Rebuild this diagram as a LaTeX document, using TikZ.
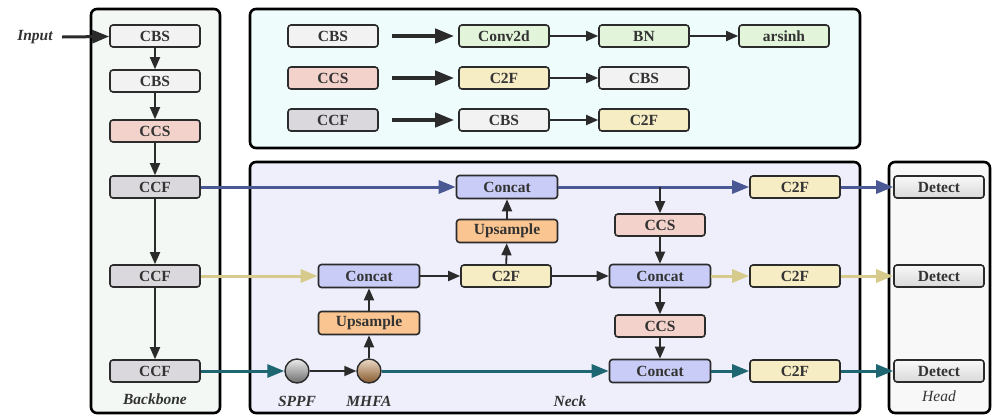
\documentclass[tikz,border=0pt]{standalone}
\usepackage{xcolor}
\usepackage{fontspec}
\setmainfont{Liberation Serif}
\usepackage{tikz}
\usetikzlibrary{arrows.meta}

\definecolor{textc}{HTML}{333333}
\definecolor{edgec}{HTML}{2B2B2B}
\definecolor{cbsc}{HTML}{F2F2F2}
\definecolor{ccsc}{HTML}{F2D2CA}
\definecolor{ccfc}{HTML}{DAD8DD}
\definecolor{convc}{HTML}{E2F5DA}
\definecolor{cfc}{HTML}{F7EDC4}
\definecolor{catc}{HTML}{C9CCF6}
\definecolor{upc}{HTML}{FAC590}
\definecolor{blueln}{HTML}{4A5894}
\definecolor{yelln}{HTML}{D6CB8C}
\definecolor{tealln}{HTML}{1D6672}
\definecolor{backc}{HTML}{F3F8F4}
\definecolor{legc}{HTML}{EFFCFC}
\definecolor{neckc}{HTML}{EFEFFC}
\definecolor{headc}{HTML}{F8F8F8}

\tikzset{
  blk/.style={draw=edgec, line width=1.6pt, rounded corners=3pt, minimum width=90pt,
    minimum height=22pt, inner sep=0pt, text=textc, font=\bfseries\fontsize{15.5}{17}\selectfont},
  wide/.style={blk, minimum width=101pt, minimum height=23pt},
  grp/.style={draw=black, line width=2.6pt, rounded corners=6pt},
  lbl/.style={text=textc, font=\bfseries\itshape\fontsize{15.5}{17}\selectfont},
  ar/.style={draw=edgec, line width=1.8pt, -{Triangle[length=12pt,width=10pt]}},
  big/.style={draw=edgec, line width=4pt, -{Triangle[length=19pt,width=14pt]}},
  col/.style={draw=#1, line width=3pt, -{Triangle[length=17pt,width=13pt]}},
  ball/.style={circle, draw=edgec, line width=1.4pt, minimum size=24pt, inner sep=0pt}
}

\begin{document}
\begin{tikzpicture}[x=1pt,y=-1pt]
  \useasboundingbox (0,0) rectangle (994,416);
  % Group frames
  \draw[grp, fill=backc] (91,9) rectangle (220,413);
  \draw[grp, fill=legc] (250,9) rectangle (860,148);
  \draw[grp, fill=neckc] (250,162) rectangle (860,413);
  \draw[grp, fill=headc] (889,162) rectangle (990,413);

  % Backbone
  \node[lbl] (input) at (35,37) {Input};
  \node[blk, fill=cbsc] (cbs1) at (155,36) {CBS};
  \node[blk, fill=cbsc] (cbs2) at (155,81) {CBS};
  \node[blk, fill=ccsc] (ccs0) at (155,131) {CCS};
  \node[blk, fill=ccfc] (ccf1) at (155,187) {CCF};
  \node[blk, fill=ccfc] (ccf2) at (155,276) {CCF};
  \node[blk, fill=ccfc] (ccf3) at (155,371) {CCF};
  \node[lbl] (bbl) at (155,399) {Backbone};
  \draw[big, line width=3pt, -{Triangle[length=17pt,width=13pt]}] ([xshift=6pt]input.east) -- (cbs1);
  \draw[ar] (cbs1) -- (cbs2);
  \draw[ar] (cbs2) -- (ccs0);
  \draw[ar] (ccs0) -- (ccf1);
  \draw[ar] (ccf1) -- (ccf2);
  \draw[ar] (ccf2) -- (ccf3);

  % Legend
  \node[blk, fill=cbsc] (kcbs) at (333,36) {CBS};
  \node[blk, fill=ccsc] (kccs) at (333,78) {CCS};
  \node[blk, fill=ccfc] (kccf) at (333,120) {CCF};
  \node[blk, fill=convc] (kconv) at (504,36) {Conv2d};
  \node[blk, fill=convc] (kbn) at (644,36) {BN};
  \node[blk, fill=convc] (kact) at (784,36) {arsinh};
  \node[blk, fill=cfc] (kc2f) at (504,78) {C2F};
  \node[blk, fill=cbsc] (kcbs2) at (644,78) {CBS};
  \node[blk, fill=cbsc] (kcbs3) at (504,120) {CBS};
  \node[blk, fill=cfc] (kc2f2) at (644,120) {C2F};
  \draw[big] ([xshift=13pt]kcbs.east) -- ([xshift=-4pt]kconv.west);
  \draw[big] ([xshift=13pt]kccs.east) -- ([xshift=-4pt]kc2f.west);
  \draw[big] ([xshift=13pt]kccf.east) -- ([xshift=-4pt]kcbs3.west);
  \draw[ar] (kconv) -- (kbn);
  \draw[ar] (kbn) -- (kact);
  \draw[ar] (kc2f) -- (kcbs2);
  \draw[ar] (kcbs3) -- (kc2f2);

  % Neck
  \node[wide, fill=catc] (cat1) at (507,187) {Concat};
  \node[wide, fill=upc] (up1) at (507,231) {Upsample};
  \node[blk, fill=cfc] (mc2f) at (506,276) {C2F};
  \node[wide, fill=catc] (cat2) at (369,276) {Concat};
  \node[wide, fill=upc] (up2) at (369,323) {Upsample};
  \node[ball, top color=gray!15, bottom color=gray!85!black] (sppf) at (297,371) {};
  \node[ball, top color=brown!30, bottom color=brown!70!black] (mhfa) at (369,371) {};
  \node[lbl] (sppfl) at (297,401) {SPPF};
  \node[lbl] (mhfal) at (369,401) {MHFA};
  \node[lbl] (neckl) at (570,401) {Neck};
  \node[blk, fill=ccsc] (ccs1) at (660,225) {CCS};
  \node[wide, fill=catc] (cat3) at (660,276) {Concat};
  \node[blk, fill=ccsc] (ccs2) at (660,326) {CCS};
  \node[wide, fill=catc] (cat4) at (660,371) {Concat};
  \node[blk, fill=cfc] (oc2f1) at (795,187) {C2F};
  \node[blk, fill=cfc] (oc2f2) at (795,276) {C2F};
  \node[blk, fill=cfc] (oc2f3) at (795,371) {C2F};

  % Head
  \node[blk, top color=gray!5, bottom color=gray!30] (det1) at (939,187) {Detect};
  \node[blk, top color=gray!5, bottom color=gray!30] (det2) at (939,276) {Detect};
  \node[blk, top color=gray!5, bottom color=gray!30] (det3) at (939,371) {Detect};
  \node[lbl, font=\itshape\fontsize{15.5}{17}\selectfont] (headl) at (939,396) {Head};

  % Colored paths
  \draw[col=blueln] (ccf1) -- (cat1);
  \draw[col=blueln] (cat1) -- (oc2f1);
  \draw[col=blueln] (oc2f1) -- (det1);
  \draw[col=yelln] (ccf2) -- (cat2);
  \draw[col=yelln] (cat3) -- (oc2f2);
  \draw[col=yelln] (oc2f2) -- (det2);
  \draw[col=tealln] (ccf3) -- (sppf);
  \draw[col=tealln] (mhfa) -- (cat4);
  \draw[col=tealln] (cat4) -- (oc2f3);
  \draw[col=tealln] (oc2f3) -- (det3);

  % Dark paths
  \draw[ar] (sppf) -- (mhfa);
  \draw[ar] (mhfa) -- (up2);
  \draw[ar] (up2) -- (cat2);
  \draw[ar] (cat2) -- (mc2f);
  \draw[ar] (mc2f) -- (up1);
  \draw[ar] (up1) -- (cat1);
  \draw[ar] (mc2f) -- (cat3);
  \draw[ar] (ccs1 |- cat1) -- (ccs1);
  \draw[ar] (ccs1) -- (cat3);
  \draw[ar] (cat3) -- (ccs2);
  \draw[ar] (ccs2) -- (cat4);
\end{tikzpicture}
\end{document}
